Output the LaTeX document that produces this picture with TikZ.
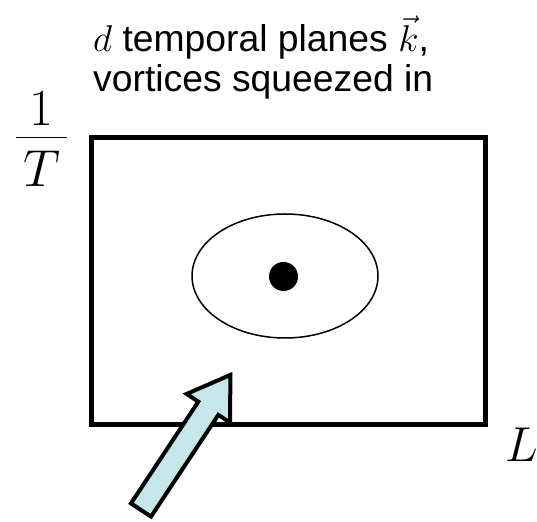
\RequirePackage{fix-cm}
\documentclass[tikz,border=0pt]{standalone}
\usepackage{amsmath}
\usepackage{fontspec}
\setsansfont{Liberation Sans}
\usepackage{tikz}
\usetikzlibrary{shapes.geometric, positioning, calc}
\definecolor{arrowfill}{RGB}{198,230,233}

\begin{document}
\begin{tikzpicture}[x=1pt, y=1pt,
    frame/.style={rectangle, draw, line width=5pt, inner sep=0pt, minimum width=394pt, minimum height=287pt},
    orbit/.style={ellipse, draw, line width=1.5pt, inner sep=0pt, minimum width=186pt, minimum height=124pt},
    vortex/.style={circle, fill=black, inner sep=0pt, minimum size=29pt},
    caption/.style={align=left, inner sep=0pt, font=\sffamily\fontsize{37.3}{40}\selectfont},
    axislabel/.style={inner sep=0pt, font=\fontsize{52}{60}\selectfont},
    blockarrow/.style={draw, line width=4pt, line join=miter, fill=arrowfill},
]
    \useasboundingbox (0,0) rectangle (537,521);

    \node[frame] (box) at (288,239.5) {};
    \node[orbit] (orbit) at (285,245) {};
    \node[vortex] (core) at (283.5,244.5) {};

    \node[caption, anchor=base west] (planes) at (93,429)
        {$d$ temporal planes $\vec{k}$,\\vortices squeezed in};
    \node[axislabel, anchor=base] (invT) at (41.5,370.5)
        {$\dfrac{\raisebox{-10pt}{$1$}}{\mkern2.5mu T\mkern2.5mu}$};
    \node[axislabel, anchor=base west, font=\fontsize{49}{60}\selectfont] (len) at (505,59) {$L$};

    % block arrow pointing into the box
    \begin{scope}[shift={(141,11)}, rotate=56.5]
        \draw[blockarrow] (0,-12) -- (122,-12) -- (122,-26) -- (162,0)
            -- (122,26) -- (122,12) -- (0,12) -- cycle;
    \end{scope}
\end{tikzpicture}
\end{document}
